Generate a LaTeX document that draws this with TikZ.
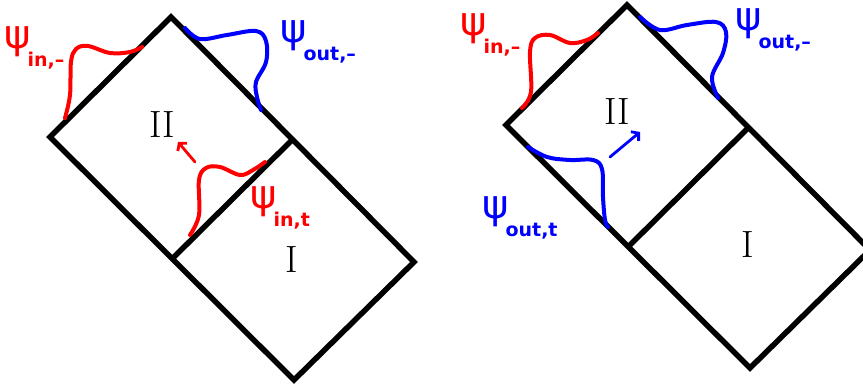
\documentclass[tikz,border=0pt]{standalone}
\usepackage{fontspec}
\newfontfamily\handfont{DejaVu Sans}
\usepackage{xcolor}
\usepackage{tikz}
\usetikzlibrary{arrows.meta}
\definecolor{inred}{HTML}{FF0000}
\definecolor{outblue}{HTML}{0000FF}
\tikzset{
  wall/.style={draw=black, line width=5.5pt, line join=miter},
  packet/.style={line width=4pt, line cap=round, smooth, tension=0.6},
  inpk/.style={packet, draw=inred},
  outpk/.style={packet, draw=outblue},
  mv/.style={line width=2.8pt, line cap=round, -{Straight Barb[length=5pt,width=12pt]}},
  psi/.style={font=\handfont, inner sep=0pt, anchor=base west, text height=26pt},
  region/.style={font=\fontsize{38}{38}\selectfont, inner sep=0pt}
}
\newcommand{\wf}[2]{{\fontsize{40}{40}\selectfont ψ}\kern-3pt\raisebox{-18pt}{\bfseries\fontsize{19}{19}\selectfont #1,#2}}

\begin{document}
\begin{tikzpicture}[x=1pt, y=-1pt]
  \useasboundingbox (0,0) rectangle (863,387);
  % left diagram
  \coordinate (lt) at (171,17);
  \coordinate (ll) at (50,137);
  \coordinate (lb) at (294,380);
  \coordinate (lr) at (414,262);
  \coordinate (lmr) at (292,140);
  \coordinate (lml) at (173,258);
  \draw[wall] (lt) -- (ll) -- (lb) -- (lr) -- cycle;
  \draw[wall] (lmr) -- (lml);
  \node[region] (lII) at (162,125) {II};
  \node[region] (lI) at (292,260) {I};
  \draw[inpk] plot coordinates {(65,118) (70,95) (71,62) (76,49) (88,46) (110,53) (130,52) (142,47)};
  \draw[outpk] plot coordinates {(185,28) (200,39) (227,35) (256,31) (266,41) (266,62) (256,82) (257,97) (261,110)};
  \draw[inpk] plot coordinates {(190,235) (199,215) (199,180) (206,168) (220,167) (240,175) (253,170) (265,162)};
  \coordinate (lfrom) at (195,162);
  \coordinate (lto) at (178,142);
  \draw[mv, draw=inred] (lfrom) -- (lto);
  \node[psi, text=inred] (lin) at (4,49) {\wf{in}{–}};
  \node[psi, text=outblue] (lout) at (280,43) {\wf{out}{–}};
  \node[psi, text=inred] (lint) at (250,209) {\wf{in}{t}};
  % right diagram
  \coordinate (rt) at (627,5);
  \coordinate (rl) at (506,125);
  \coordinate (rb) at (750,368);
  \coordinate (rr) at (870,250);
  \coordinate (rmr) at (748,128);
  \coordinate (rml) at (629,246);
  \draw[wall] (rt) -- (rl) -- (rb) -- (rr) -- cycle;
  \draw[wall] (rmr) -- (rml);
  \node[region] (rII) at (617,112) {II};
  \node[region] (rI) at (748,245) {I};
  \draw[inpk] plot coordinates {(522,108) (531,92) (530,52) (535,38) (550,35) (570,43) (587,40) (598,33)};
  \draw[outpk] plot coordinates {(640,17) (660,30) (687,25) (716,22) (726,32) (723,53) (712,77) (718,98)};
  \draw[outpk] plot coordinates {(528,147) (547,157) (570,160) (593,160) (602,169) (603,197) (605,220) (608,227)};
  \coordinate (rfrom) at (610,157);
  \coordinate (rto) at (640,132);
  \draw[mv, draw=outblue] (rfrom) -- (rto);
  \node[psi, text=inred] (rin) at (460,36) {\wf{in}{–}};
  \node[psi, text=outblue] (rout) at (735,31) {\wf{out}{–}};
  \node[psi, text=outblue] (rout2) at (482,219) {\wf{out}{t}};
\end{tikzpicture}
\end{document}
